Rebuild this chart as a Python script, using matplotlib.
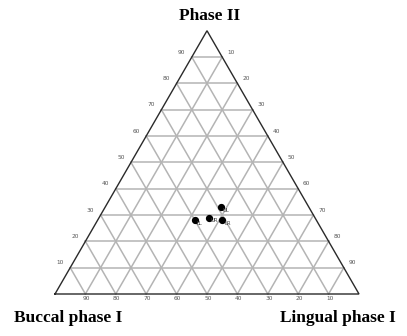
import numpy as np
import matplotlib
matplotlib.use("Agg")
import matplotlib.pyplot as plt

# Ternary composition of the samples (fractions of Buccal phase I, Phase II, Lingual phase I)
sample_names = ["LL", "UR", "UL", "LR"]
buccal = [0.40, 0.35, 0.29, 0.31]
phase2 = [0.28, 0.29, 0.33, 0.28]
lingual = [0.32, 0.36, 0.38, 0.41]

tick_values = [10, 20, 30, 40, 50, 60, 70, 80, 90]

SQ = np.sqrt(3) / 2


def to_xy(b, p, l):
    """Ternary (buccal, phase II, lingual) -> cartesian; buccal at left, lingual at right, phase II on top."""
    b, p, l = np.asarray(b, float), np.asarray(p, float), np.asarray(l, float)
    s = b + p + l
    p, l = p / s, l / s
    return l + p / 2, p * SQ


W, H, DPI = 407, 336, 100
fig = plt.figure(figsize=(W / DPI, H / DPI), dpi=DPI)
ax = fig.add_axes([0, 0, 1, 1])
scale = 304.0  # pixels per unit side
x0_px, y0_px = 55.0, 294.0
ax.set_xlim(-x0_px / scale, (W - x0_px) / scale)
ax.set_ylim(-(H - y0_px) / scale, y0_px / scale)
ax.axis("off")

px = 1 / scale  # one pixel in data units

# grid lines
gcol = "#b4b4b4"
for t in tick_values:
    f = t / 100
    # constant phase II
    xa, ya = to_xy(1 - f, f, 0)
    xb, yb = to_xy(0, f, 1 - f)
    ax.plot([xa, xb], [ya, yb], color=gcol, lw=1.1, zorder=1)
    # constant lingual
    xa, ya = to_xy(1 - f, 0, f)
    xb, yb = to_xy(0, 1 - f, f)
    ax.plot([xa, xb], [ya, yb], color=gcol, lw=1.1, zorder=1)
    # constant buccal
    xa, ya = to_xy(f, 0, 1 - f)
    xb, yb = to_xy(f, 1 - f, 0)
    ax.plot([xa, xb], [ya, yb], color=gcol, lw=1.1, zorder=1)

# triangle border
cx, cy = to_xy([1, 0, 0, 1], [0, 0, 1, 0], [0, 1, 0, 0])
ax.plot(cx, cy, color="#2a2a2a", lw=1.0, zorder=2, solid_joinstyle="miter")

# tick labels
tfs = 4.2
tcol = "#555555"
for t in tick_values:
    f = t / 100
    # bottom axis: buccal share
    x, y = to_xy(f, 0, 1 - f)
    ax.text(x + 1 * px, y - 4 * px, str(t), fontsize=tfs, color=tcol, ha="center", va="center")
    # left axis: phase II share
    x, y = to_xy(1 - f, f, 0)
    ax.text(x - 10 * px, y + 5 * px, str(t), fontsize=tfs, color=tcol, ha="center", va="center")
    # right axis: lingual share
    x, y = to_xy(0, 1 - f, f)
    ax.text(x + 8.5 * px, y + 5 * px, str(t), fontsize=tfs, color=tcol, ha="center", va="center")

# corner titles
tkw = dict(fontsize=12.5, fontweight="bold", family="Liberation Serif", ha="center", va="center")
ax.text((210 - x0_px) / scale, (y0_px - 16) / scale, "Phase II", **tkw)
ax.text((68 - x0_px) / scale, (y0_px - 318) / scale, "Buccal phase I", **tkw)
ax.text((338 - x0_px) / scale, (y0_px - 318) / scale, "Lingual phase I", **tkw)

# samples
sx, sy = to_xy(buccal, phase2, lingual)
ax.plot(sx, sy, "o", color="black", ms=4.2, zorder=3, ls="none")
for name, x, y in zip(sample_names, sx, sy):
    ax.text(x + 2 * px, y - 3 * px, name, fontsize=3.8, color="#444444", ha="left", va="center", zorder=3)

fig.savefig("out.png", dpi=DPI)
